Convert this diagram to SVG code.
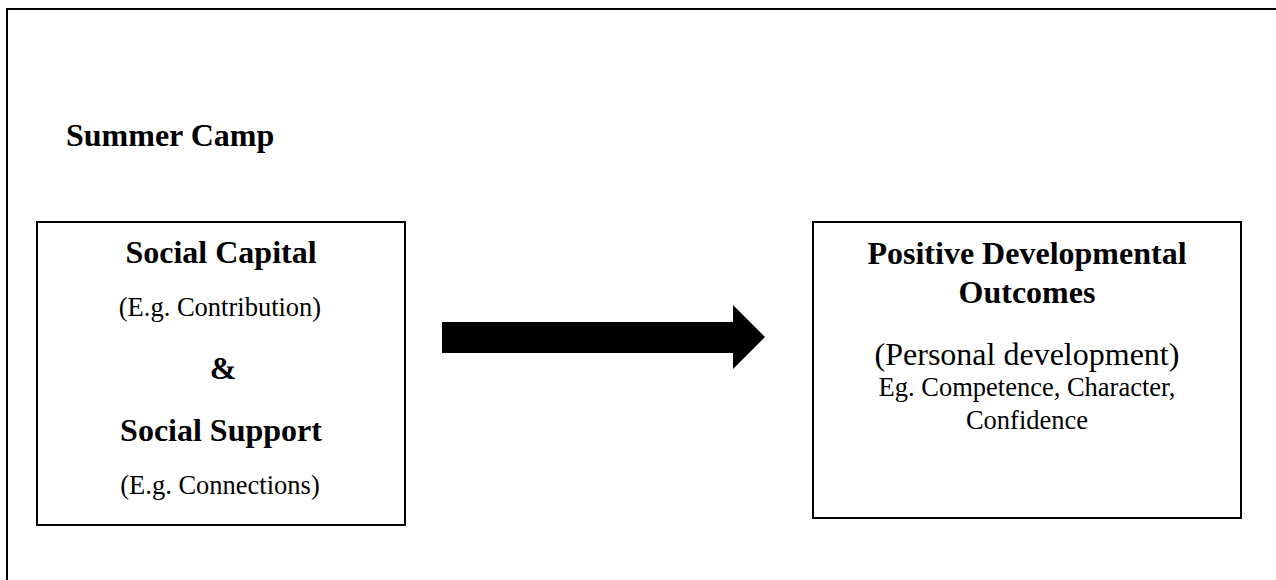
<svg xmlns="http://www.w3.org/2000/svg" width="1276" height="580" viewBox="0 0 1276 580">
<style>
.b{font-family:"Liberation Serif","Times New Roman",serif;font-weight:bold;font-size:32px;fill:#000}
.r{font-family:"Liberation Serif","Times New Roman",serif;font-size:26.5px;fill:#000}
.r32{font-family:"Liberation Serif","Times New Roman",serif;font-size:32px;fill:#000}
.box{fill:#fff;stroke:#000;stroke-width:2}
</style>
<rect width="1276" height="580" fill="#fff"/>
<g id="frame">
<path d="M7,590 V9 H1290" fill="none" stroke="#000" stroke-width="2"/>
<text class="b" x="66" y="146">Summer Camp</text>
</g>
<g id="left">
<rect class="box" x="37" y="222" width="368" height="303"/>
<text class="b" x="221" y="263" text-anchor="middle">Social Capital</text>
<text class="r" x="220" y="316" text-anchor="middle">(E.g. Contribution)</text>
<text class="b" x="223" y="379" text-anchor="middle">&amp;</text>
<text class="b" x="221" y="441" text-anchor="middle">Social Support</text>
<text class="r" x="220" y="494" text-anchor="middle">(E.g. Connections)</text>
</g>
<g id="connectors">
<polygon points="442,322 733,322 733,305 765,337 733,369 733,353 442,353" fill="#000"/>
</g>
<g id="right">
<rect class="box" x="813" y="222" width="428" height="296"/>
<text class="b" x="1027" y="264" text-anchor="middle">Positive Developmental</text>
<text class="b" x="1027" y="303" text-anchor="middle">Outcomes</text>
<text class="r32" x="1027" y="365" text-anchor="middle">(Personal development)</text>
<text class="r" x="1027" y="396" text-anchor="middle">Eg. Competence, Character,</text>
<text class="r" x="1027" y="429" text-anchor="middle">Confidence</text>
</g>
</svg>
